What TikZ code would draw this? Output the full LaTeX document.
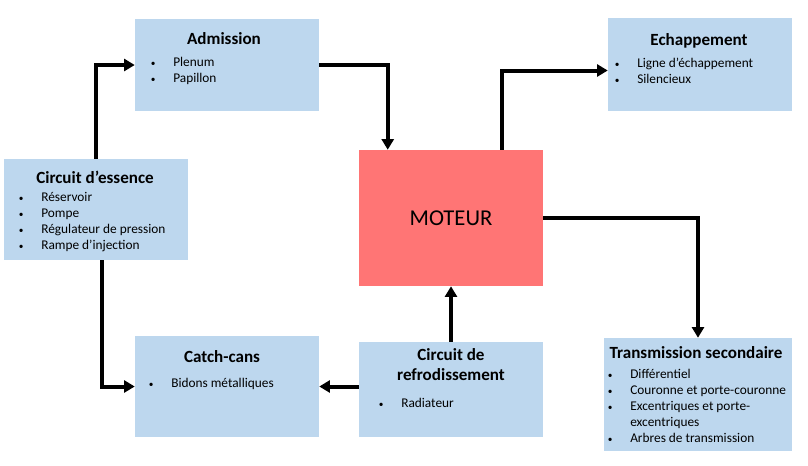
\documentclass[tikz,border=0pt]{standalone}
\usepackage{fontspec}
\setmainfont{Carlito}
\usetikzlibrary{arrows.meta,calc,positioning}
\tikzset{>={Triangle[length=8pt,width=9pt]}}
\definecolor{boxblue}{HTML}{BDD7EE}
\definecolor{motorred}{HTML}{FF7575}
\tikzset{
  bloc/.style={fill=boxblue, draw=none, minimum width=138pt, inner sep=0pt},
  titre/.style={anchor=base, inner sep=0pt, font=\bfseries\fontsize{12.8}{15}\selectfont},
  liste/.style={anchor=base west, inner sep=0pt, font=\fontsize{10}{12}\selectfont},
  fleche/.style={->, line width=3pt},
}
\newcommand{\itm}[1]{\makebox[0pt]{\fontsize{7}{8}\selectfont\textbullet}\hspace{15pt}#1}
\newcommand{\puces}[1]{\begin{tabular}[t]{@{}l@{}}#1\end{tabular}}

\begin{document}
\begin{tikzpicture}[x=0.75pt,y=-0.75pt]
      \useasboundingbox (0,0) rectangle (808,465);
      % blocs
      \node[bloc, minimum height=69pt] (adm) at (227,65) {};
      \node[bloc, minimum height=75.75pt] (ess) at (96,209.5) {};
      \node[bloc, fill=motorred, minimum height=102pt, font=\fontsize{17}{20}\selectfont] (mot) at (451,218) {MOTEUR};
      \node[bloc, minimum height=69.75pt] (ech) at (700,64.5) {};
      \node[bloc, minimum height=75.75pt] (cat) at (227,386.5) {};
      \node[bloc, minimum height=71.25pt] (ref) at (451,389.5) {};
      \node[bloc, minimum width=141pt, minimum height=84.75pt] (tra) at (698,394.5) {};
      %
      % titres et listes
      \node[titre] (adm-t) at (224,44) {Admission};
      \node[liste] (adm-l) at (153,66) {\puces{\itm{Plenum}\\ \itm{Papillon}}};
      \node[titre] (ess-t) at (95,183) {Circuit d’essence};
      \node[liste] (ess-l) at (21,201) {\puces{\itm{Réservoir}\\ \itm{Pompe}\\ \itm{Régulateur de pression}\\ \itm{Rampe d’injection}}};
      \node[titre] (ech-t) at (699,45) {Echappement};
      \node[liste] (ech-l) at (617,67) {\puces{\itm{Ligne d’échappement}\\ \itm{Silencieux}}};
      \node[titre] (cat-t) at (222,362) {Catch-cans};
      \node[liste] (cat-l) at (151,387) {\puces{\itm{Bidons métalliques}}};
      \node[titre] (ref-t) at (451,360) {\begin{tabular}[t]{@{}c@{}}Circuit de\\ refrodissement\end{tabular}};
      \node[liste] (ref-l) at (381,407) {\puces{\itm{Radiateur}}};
      \node[titre] (tra-t) at (696,358) {Transmission secondaire};
      \node[liste] (tra-l) at (610,378) {\puces{\itm{Différentiel}\\ \itm{Couronne et porte-couronne}\\ \itm{Excentriques et porte-}\\ \hspace{15pt}excentriques\\ \itm{Arbres de transmission}}};
      %
      % liaisons
      \draw[fleche] (ess.north) |- (adm.west);
      \draw[fleche] (adm.east) -| ([xshift=21.75pt]mot.north west);
      \draw[fleche] ([xshift=-30.75pt]mot.north east) |- ([yshift=-4.5pt]ech.west);
      \draw[fleche] (mot.east) -| (tra.north);
      \draw[fleche] ([xshift=4.5pt]ess.south) |- (cat.west);
      \draw[fleche] (ref.west |- cat.east) -- (cat.east);
      \draw[fleche] (ref.north) -- (mot.south);
    \end{tikzpicture}
\end{document}
